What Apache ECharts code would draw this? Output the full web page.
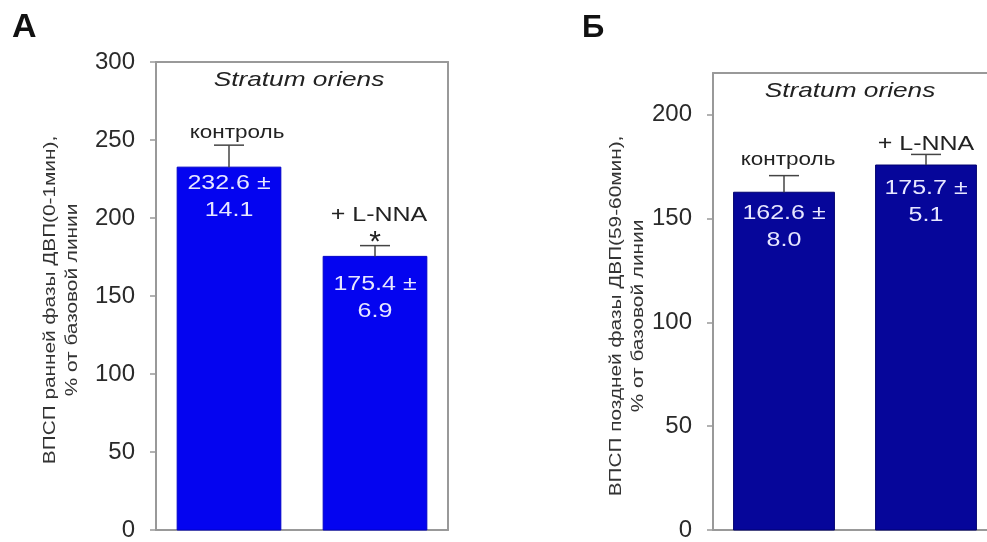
<!DOCTYPE html>
<html>
<head>
<meta charset="utf-8">
<script src="https://cdn.jsdelivr.net/npm/echarts@6/dist/echarts.min.js"></script>
<style>
html,body{margin:0;padding:0;background:#fff;}
#chart{width:987px;height:542px;}
</style>
</head>
<body>
<div id="chart"></div>
<script>
// ---- data ----
const categories = ['контроль', '+ L-NNA'];
const meansA = [232.6, 175.4];
const errorsA = [14.1, 6.9];
const marksA = ['', '*'];
const meansB = [162.6, 175.7];
const errorsB = [8.0, 5.1];
const marksB = ['', ''];
const ticksA = [0, 50, 100, 150, 200, 250, 300];
const ticksB = [0, 50, 100, 150, 200];
const yNameA = 'ВПСП ранней фазы ДВП(0-1мин),\n% от базовой линии';
const yNameB = 'ВПСП поздней фазы ДВП(59-60мин),\n% от базовой линии';
const panelTitle = 'Stratum oriens';
const panelLetters = ['А', 'Б'];

const FONT = 'Arial, "Liberation Sans", sans-serif';
const SX = 1.25; // horizontal stretch of the reference's lettering
const chart = echarts.init(document.getElementById('chart'));

const AX = '#999';
function yAxisCfg(grid, max, ticks) {
  return {
    type: 'value', gridIndex: grid, min: 0, max: max, position: 'left',
    axisLine: {show: true, onZero: false, lineStyle: {color: AX, width: 2}},
    axisTick: {show: true, inside: false, length: 6, customValues: ticks, lineStyle: {color: AX, width: 1.5}},
    axisLabel: {customValues: ticks, margin: 21, fontFamily: FONT, fontSize: 24, color: '#2a2a2a'},
    splitLine: {show: false}
  };
}
function yAxisRight(grid, max) {
  return {type: 'value', gridIndex: grid, min: 0, max: max, position: 'right',
    axisLine: {show: true, onZero: false, lineStyle: {color: AX, width: 2}},
    axisTick: {show: false}, axisLabel: {show: false}, splitLine: {show: false}};
}
function xAxisCfg(grid, max, pos) {
  return {
    type: 'value', gridIndex: grid, min: -0.5, max: max, position: pos,
    axisLine: {show: true, onZero: false, lineStyle: {color: AX, width: 2}},
    axisTick: {show: false}, axisLabel: {show: false}, splitLine: {show: false}
  };
}
// per-bar style/layout (px): first label line below bar top, texts above cap
const layoutA = {labelTop: [16, 28], nameUp: [12, 30], nameDx: [8, 4], nameSize: [18, 20], markUp: [0, 3]};
const layoutB = {labelTop: [21, 23], nameUp: [16, 10], nameDx: [4, 0], nameSize: [18, 20], markUp: [0, 0]};
const LH = 27;

function panelSeries(xi, yi, means, errors, marks, color, border, L) {
  return {
    type: 'custom', xAxisIndex: xi, yAxisIndex: yi,
    data: means.map((m, i) => [i, m, errors[i]]),
    renderItem: (params, api) => {
      const i = api.value(0);
      const base = api.coord([i, 0]);
      const barTop = api.coord([i, api.value(1)]);
      const top = api.coord([i, api.value(1) + api.value(2)]);
      const w = api.size([0.71, 0])[0];
      const cw = 15;
      const children = [
        {type: 'rect', shape: {x: base[0] - w / 2, y: barTop[1], width: w, height: base[1] - barTop[1]},
          style: {fill: color, stroke: border, lineWidth: 1}},
        {type: 'text', x: barTop[0], y: barTop[1] + L.labelTop[i] - LH / 2, scaleX: SX,
          style: {text: api.value(1).toFixed(1) + ' ±\n' + api.value(2).toFixed(1),
            fontFamily: FONT, fontSize: 20, lineHeight: LH, fill: '#e6e6ff', align: 'center', verticalAlign: 'top'}},
        {type: 'line', shape: {x1: barTop[0], y1: barTop[1], x2: top[0], y2: top[1]}, style: {stroke: '#444', lineWidth: 1.5}},
        {type: 'line', shape: {x1: top[0] - cw, y1: top[1], x2: top[0] + cw, y2: top[1]}, style: {stroke: '#444', lineWidth: 1.5}},
        {type: 'text', x: top[0] + L.nameDx[i], y: top[1] - L.nameUp[i], scaleX: SX,
          style: {text: categories[i], fontFamily: FONT, fontSize: L.nameSize[i], fill: '#222', align: 'center', verticalAlign: 'middle'}}
      ];
      if (marks[i]) {
        children.push({type: 'text', x: top[0], y: top[1] - L.markUp[i],
          style: {text: marks[i], fontFamily: FONT, fontSize: 30, fill: '#222', align: 'center', verticalAlign: 'middle'}});
      }
      return {type: 'group', children: children};
    }
  };
}

function axisName(x, y, text) {
  return {type: 'text', x: x, y: y, rotation: Math.PI / 2, scaleX: 1.3,
    style: {text: text, fontFamily: FONT, fontSize: 16, lineHeight: 22, fill: '#333', align: 'center', verticalAlign: 'middle'}};
}
function titleText(x, y, text) {
  return {type: 'text', x: x, y: y, scaleX: SX,
    style: {text: text, fontFamily: FONT, fontSize: 21, fontStyle: 'italic', fill: '#222', align: 'center', verticalAlign: 'middle'}};
}

chart.setOption({
  animation: false,
  grid: [
    {left: 156, top: 62, width: 292, height: 472},
    {left: 713, top: 73, width: 274, height: 458}
  ],
  xAxis: [xAxisCfg(0, 1.5, 'bottom'), xAxisCfg(0, 1.5, 'top'),
          xAxisCfg(1, -0.5 + 274 / 142, 'bottom'), xAxisCfg(1, -0.5 + 274 / 142, 'top')],
  yAxis: [yAxisCfg(0, 300, ticksA), yAxisRight(0, 300), yAxisCfg(1, 220, ticksB)],
  graphic: [
    {type: 'text', left: 12, top: 11, style: {text: panelLetters[0], fontFamily: FONT, fontSize: 34, fontWeight: 'bold', fill: '#111'}},
    {type: 'text', left: 582, top: 13, style: {text: panelLetters[1], fontFamily: FONT, fontSize: 31, fontWeight: 'bold', fill: '#111'}},
    titleText(299, 80, panelTitle),
    titleText(850, 91, panelTitle),
    axisName(62, 300, yNameA),
    axisName(628, 316, yNameB)
  ],
  series: [
    panelSeries(0, 0, meansA, errorsA, marksA, '#0404f0', '#0000c8', layoutA),
    panelSeries(2, 2, meansB, errorsB, marksB, '#06069a', '#000070', layoutB)
  ]
});
</script>
</body>
</html>
